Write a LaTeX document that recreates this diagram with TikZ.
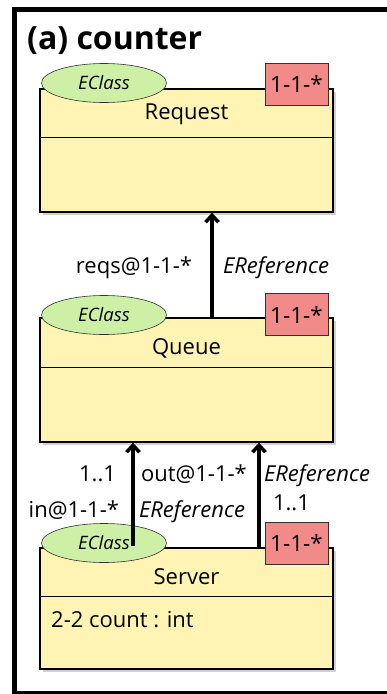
\documentclass[tikz,border=0pt]{standalone}
\usepackage{fontspec}
\setmainfont{Open Sans}
\usetikzlibrary{arrows.meta, positioning, shapes.geometric, shadows}
\definecolor{clsFill}{HTML}{FFF4B3}
\definecolor{tagFill}{HTML}{CDF0A6}
\definecolor{lvlFill}{HTML}{F28A8A}
\definecolor{lineGray}{HTML}{333333}
\tikzset{
  classbox/.style={draw=black, line width=1.3pt, fill=clsFill,
    minimum width=293pt, inner sep=0pt,
    drop shadow={shadow xshift=3pt, shadow yshift=-3pt, fill=black, opacity=0.18}},
  clsname/.style={font=\fontsize{22}{26}\selectfont, inner sep=0pt},
  eclasstag/.style={ellipse, draw=lineGray, line width=0.6pt, fill=tagFill,
    minimum width=125pt, minimum height=39pt, inner sep=0pt,
    font=\itshape\fontsize{18.5}{22}\selectfont},
  levelbox/.style={draw=lineGray, line width=0.6pt, fill=lvlFill,
    minimum width=63pt, minimum height=42pt, inner sep=0pt,
    font=\fontsize{22.5}{26}\selectfont},
  refarrow/.style={line width=4pt, -{Straight Barb[length=7pt, width=13pt, line width=3.5pt]}},
  lbl/.style={font=\fontsize{22}{26}\selectfont, inner sep=0pt},
  reftype/.style={lbl, font=\itshape\fontsize{22}{26}\selectfont}
}

\begin{document}
\begin{tikzpicture}[x=1pt, y=-1pt]
  \useasboundingbox (0,0) rectangle (386,694);
  % outer frame
  \draw[line width=5pt] (395,9.5) -- (14,9.5) -- (14,693) -- (395,693);
  \node[anchor=west, inner sep=0pt, font=\bfseries\fontsize{32}{36}\selectfont] (title) at (27,41) {(a) counter};

  % Request
  \node[classbox, minimum height=123pt] (request) at (186.5,150.5) {};
  \draw[line width=1.3pt] ([yshift=-49pt]request.north west) -- ([yshift=-49pt]request.north east);
  \node[clsname] (requestname) at (186.5,114) {Request};
  \node[eclasstag] (requesttag) at (104,83) {EClass};
  \node[levelbox] (requestlevel) at (296.5,84) {1-1-*};

  % Queue
  \node[classbox, minimum height=124pt] (queue) at (186.5,380) {};
  \draw[line width=1.3pt] ([yshift=-50pt]queue.north west) -- ([yshift=-50pt]queue.north east);
  \node[clsname] (queuename) at (186.5,348) {Queue};
  \node[eclasstag] (queuetag) at (104,315) {EClass};
  \node[levelbox] (queuelevel) at (296.5,314.5) {1-1-*};

  % Server
  \node[classbox, minimum height=121pt] (server) at (186.5,608.5) {};
  \draw[line width=1.3pt] ([yshift=-49pt]server.north west) -- ([yshift=-49pt]server.north east);
  \node[clsname] (servername) at (186.5,577) {Server};
  \node[clsname, anchor=west] (serverattr) at (51,620) {2-2 count : int};
  \node[eclasstag] (servertag) at (104,543) {EClass};

  % references
  \draw[refarrow] ([xshift=25.5pt]queue.north) -- ([xshift=25.5pt]request.south)
    node[pos=0.47, left=18pt, lbl] (reqsrole) {reqs@1-1-*}
    node[pos=0.47, right=9pt, reftype] (reqstype) {EReference};
  \draw[refarrow] ([xshift=-53.5pt, yshift=1pt]server.north) -- ([xshift=-53.5pt]queue.south)
    node[pos=0.70, left=15pt, lbl] (inmult) {1..1}
    node[pos=0.35, left=12pt, lbl] (inrole) {in@1-1-*}
    node[pos=0.70, right=6pt, lbl] (outrole) {out@1-1-*}
    node[pos=0.33, right=4pt, reftype] (intype) {EReference};
  \draw[refarrow] ([xshift=72.5pt]server.north) -- ([xshift=72.5pt]queue.south)
    node[pos=0.68, right=3pt, reftype] (outtype) {EReference}
    node[pos=0.43, right=12pt, lbl] (outmult) {1..1};
  \node[levelbox] (serverlevel) at (296.5,543) {1-1-*};
\end{tikzpicture}
\end{document}
